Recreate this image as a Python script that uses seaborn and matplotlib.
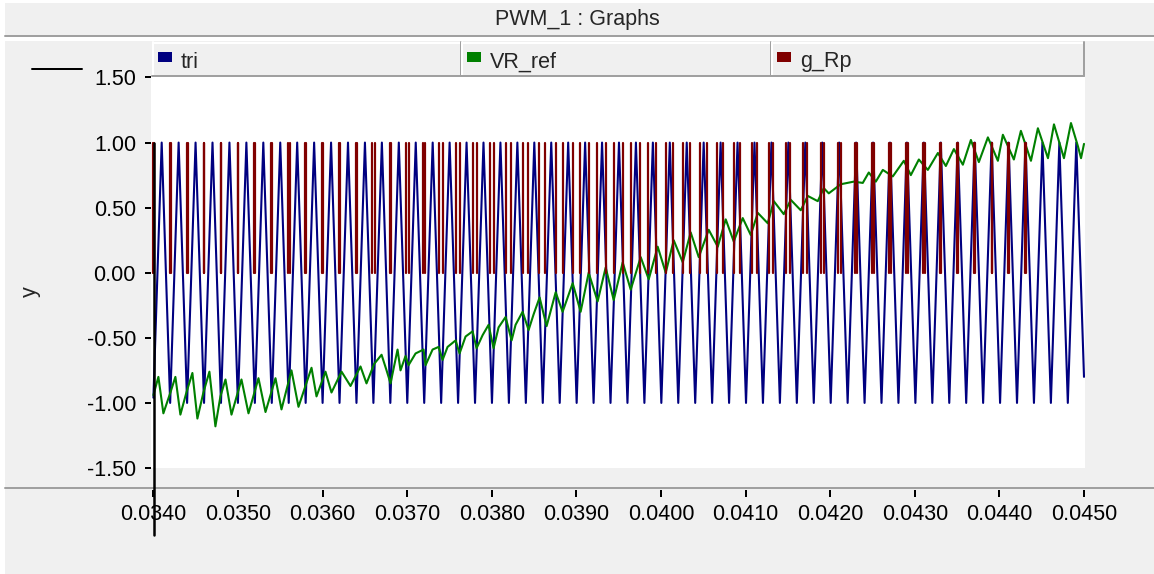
import numpy as np
import pandas as pd
import matplotlib
matplotlib.use("Agg")
import matplotlib.pyplot as plt
import seaborn as sns
from matplotlib.lines import Line2D
from matplotlib.patches import Rectangle
from matplotlib.ticker import FormatStrFormatter

# ---------------- data ----------------
series_names = ["tri", "VR_ref", "g_Rp"]
series_colors = ["#000080", "#008000", "#800000"]

# triangle carrier: vertices (alternating peak / trough), evenly spaced in time
tri_start_value = -0.96
tri_end_value = -0.80
tri_first_peak = 0.034098        # s
tri_half_period = 0.0001001      # s
tri_vertex = [
    1.00, -1.00, 1.00, -1.00, 1.00, -1.00, 1.00, -1.00, 1.00, -1.00,
    1.00, -1.00, 1.00, -1.00, 1.00, -1.00, 1.00, -1.00, 1.00, -1.00,
    1.00, -1.00, 1.00, -1.00, 1.00, -1.00, 1.00, -1.00, 1.00, -1.00,
    1.00, -1.00, 1.00, -1.00, 1.00, -1.00, 1.00, -1.00, 1.00, -1.00,
    1.00, -1.00, 1.00, -1.00, 1.00, -1.00, 1.00, -1.00, 1.00, -1.00,
    1.00, -1.00, 1.00, -1.00, 1.00, -1.00, 1.00, -1.00, 1.00, -1.00,
    1.00, -1.00, 1.00, -1.00, 1.00, -1.00, 1.00, -1.00, 1.00, -1.00,
    1.00, -1.00, 1.00, -1.00, 1.00, -1.00, 1.00, -1.00, 1.00, -1.00,
    1.00, -1.00, 1.00, -1.00, 1.00, -1.00, 1.00, -1.00, 1.00, -1.00,
    1.00, -1.00, 1.00, -1.00, 1.00, -1.00, 1.00, -1.00, 1.00, -1.00,
    1.00, -1.00, 1.00, -1.00, 1.00, -1.00, 1.00, -1.00, 1.00,
]

# reference voltage (time in ms, value)
vr_ms = [
    34.000, 34.059, 34.118, 34.201, 34.260, 34.319, 34.390, 34.461, 34.520, 34.591,
    34.662, 34.733, 34.792, 34.852, 34.923, 35.041, 35.124, 35.242, 35.325, 35.443,
    35.514, 35.632, 35.715, 35.869, 35.928, 36.034, 36.105, 36.224, 36.330, 36.448,
    36.519, 36.610, 36.697, 36.756, 36.803, 36.886, 36.921, 36.980, 37.016, 37.099,
    37.193, 37.217, 37.300, 37.371, 37.418, 37.477, 37.572, 37.619, 37.690, 37.773,
    37.820, 37.891, 37.962, 38.021, 38.080, 38.163, 38.234, 38.281, 38.364, 38.435,
    38.494, 38.565, 38.648, 38.755, 38.837, 38.956, 39.050, 39.145, 39.251, 39.346,
    39.441, 39.547, 39.642, 39.760, 39.855, 39.961, 40.056, 40.150, 40.257, 40.351,
    40.446, 40.564, 40.671, 40.765, 40.860, 40.966, 41.061, 41.144, 41.262, 41.333,
    41.451, 41.534, 41.652, 41.735, 41.853, 41.924, 41.983, 42.125, 42.279, 42.385,
    42.456, 42.539, 42.622, 42.740, 42.870, 42.953, 43.048, 43.154, 43.273, 43.367,
    43.462, 43.568, 43.663, 43.757, 43.864, 43.982, 44.041, 44.171, 44.254, 44.373,
    44.455, 44.574, 44.645, 44.763, 44.846, 44.929, 44.965, 45.000,
]
vr_val = [
    -0.94, -0.80, -1.08, -0.92, -0.80, -1.09, -0.92, -0.77, -1.12, -0.92,
    -0.76, -1.18, -0.95, -0.82, -1.09, -0.82, -1.08, -0.81, -1.07, -0.81,
    -1.05, -0.75, -1.03, -0.73, -0.95, -0.76, -0.92, -0.76, -0.87, -0.72,
    -0.85, -0.70, -0.63, -0.75, -0.85, -0.59, -0.75, -0.64, -0.71, -0.62,
    -0.59, -0.71, -0.59, -0.57, -0.67, -0.57, -0.52, -0.62, -0.49, -0.45,
    -0.58, -0.48, -0.40, -0.58, -0.42, -0.34, -0.52, -0.40, -0.30, -0.44,
    -0.32, -0.19, -0.41, -0.15, -0.30, -0.08, -0.30, 0.00, -0.22, 0.04,
    -0.21, 0.08, -0.13, 0.12, -0.05, 0.20, 0.00, 0.25, 0.08, 0.31,
    0.12, 0.33, 0.20, 0.41, 0.24, 0.42, 0.29, 0.46, 0.38, 0.55,
    0.45, 0.56, 0.48, 0.59, 0.55, 0.65, 0.61, 0.68, 0.70, 0.69,
    0.77, 0.70, 0.79, 0.74, 0.86, 0.75, 0.87, 0.79, 0.92, 0.82,
    0.95, 0.83, 1.02, 0.85, 1.04, 0.86, 1.06, 0.87, 1.09, 0.86,
    1.11, 0.88, 1.14, 0.88, 1.15, 0.97, 0.88, 0.99,
]

x_ticks = [0.0340, 0.0350, 0.0360, 0.0370, 0.0380, 0.0390, 0.0400,
           0.0410, 0.0420, 0.0430, 0.0440, 0.0450]
y_ticks = [-1.50, -1.00, -0.50, 0.00, 0.50, 1.00, 1.50]
title_text = "PWM_1 : Graphs"
y_label = "y"

# ---------------- frames ----------------
tri_t = np.concatenate([[0.034],
                        tri_first_peak + tri_half_period * np.arange(len(tri_vertex)),
                        [0.045]])
tri_v = np.concatenate([[tri_start_value], tri_vertex, [tri_end_value]])
df_tri = pd.DataFrame({"t": tri_t, "v": tri_v})
df_vr = pd.DataFrame({"t": np.array(vr_ms) / 1000.0, "v": vr_val})

# gate = comparator output (VR_ref > tri); drawn as its switching edges
t_f = np.linspace(0.034, 0.045, 44001)
g = (np.interp(t_f, df_vr.t, df_vr.v) > np.interp(t_f, df_tri.t, df_tri.v)).astype(int)
edge_t = list(t_f[np.nonzero(np.diff(g))[0] + 1])
if g[0] == 1:
    edge_t = [0.034] + edge_t
rows = []
for i, te in enumerate(edge_t):
    rows.append((te, 0.0, i))
    rows.append((te, 1.0, i))
df_g = pd.DataFrame(rows, columns=["t", "v", "edge"])

# ---------------- figure ----------------
sns.set_style("white")
plt.rcParams["font.family"] = ["Liberation Sans", "DejaVu Sans"]
FS = 15.5
W, H = 1154, 574
fig = plt.figure(figsize=(W / 100, H / 100), dpi=100, facecolor="#f0f0f0")


def fx(x):
    return x / W


def fy(y):
    return 1 - y / H


def px2pt(p):
    return p * 72 / 100


# window chrome
for (x0, y0, x1, y1) in [(0, 0, 5, H), (0, 0, W, 3), (5, 37, W, 41)]:
    fig.patches.append(Rectangle((fx(x0), fy(y1)), (x1 - x0) / W, (y1 - y0) / H,
                                 transform=fig.transFigure, facecolor="white",
                                 edgecolor="none", zorder=0))
for yy in (36, 488):
    fig.lines.append(Line2D([fx(5), 1], [fy(yy), fy(yy)], transform=fig.transFigure,
                            color="#a0a0a0", lw=px2pt(2)))
fig.text(fx(577), fy(20), title_text, ha="center", va="center", fontsize=FS)
fig.text(fx(30), fy(292), y_label, ha="center", va="center", rotation=90, fontsize=FS)
fig.lines.append(Line2D([fx(32), fx(82)], [fy(69.3), fy(69.3)], transform=fig.transFigure,
                        color="black", lw=px2pt(2)))

# plot area
ax_l, ax_r, ax_t, ax_b = 151, 1085, 76, 468
ax = fig.add_axes([fx(ax_l), fy(ax_b), (ax_r - ax_l) / W, (ax_b - ax_t) / H])
ax.set_facecolor("white")
sns.lineplot(data=df_tri, x="t", y="v", ax=ax, color=series_colors[0], lw=1.5,
             estimator=None, sort=False)
sns.lineplot(data=df_vr, x="t", y="v", ax=ax, color=series_colors[1], lw=1.5,
             estimator=None, sort=False)
sns.lineplot(data=df_g, x="t", y="v", units="edge", ax=ax, color=series_colors[2],
             lw=1.6, estimator=None, sort=False)

px_per_s = 84600.0
x0_px = 153.4
ax.set_xlim(0.034 - (x0_px - ax_l) / px_per_s, 0.034 + (ax_r - x0_px) / px_per_s)
px_per_unit = 130.67
zero_px = 273.5
ax.set_ylim((zero_px - ax_b) / px_per_unit, (zero_px - ax_t) / px_per_unit)
ax.set_xlabel("")
ax.set_ylabel("")
for s in ax.spines.values():
    s.set_visible(False)
ax.spines["bottom"].set_position(("outward", px2pt(22)))
ax.set_xticks(x_ticks)
ax.set_yticks(y_ticks)
ax.xaxis.set_major_formatter(FormatStrFormatter("%.4f"))
ax.yaxis.set_major_formatter(FormatStrFormatter("%.2f"))
ax.tick_params(axis="x", bottom=True, direction="out", length=px2pt(7), width=px2pt(2),
               pad=px2pt(7), labelsize=FS, colors="black")
ax.tick_params(axis="y", left=True, direction="out", length=px2pt(6), width=px2pt(2),
               pad=px2pt(9), labelsize=FS, colors="black")
ax.grid(False)
if ax.get_legend() is not None:
    ax.get_legend().remove()

# cursor line
fig.lines.append(Line2D([fx(154), fx(154)], [fy(143), fy(535)], transform=fig.transFigure,
                        color="black", lw=px2pt(2.5), zorder=5))

# legend bar (three button-like cells)
cells = [(152, 461), (461, 771), (771, 1084)]
ly0, ly1 = 41.5, 76
for (cx0, cx1), name, col in zip(cells, series_names, series_colors):
    fig.patches.append(Rectangle((fx(cx0), fy(ly1)), (cx1 - cx0) / W, (ly1 - ly0) / H,
                                 transform=fig.transFigure, facecolor="#f0f0f0",
                                 edgecolor="none", zorder=3))
    fig.lines.append(Line2D([fx(cx0 + 1), fx(cx1)], [fy(ly0 + 1), fy(ly0 + 1)],
                            transform=fig.transFigure, color="white", lw=px2pt(2), zorder=4))
    fig.lines.append(Line2D([fx(cx0 + 1), fx(cx0 + 1)], [fy(ly0), fy(ly1)],
                            transform=fig.transFigure, color="white", lw=px2pt(2), zorder=4))
    fig.lines.append(Line2D([fx(cx1), fx(cx1)], [fy(ly0), fy(ly1)],
                            transform=fig.transFigure, color="#a0a0a0", lw=px2pt(2), zorder=4))
    fig.lines.append(Line2D([fx(cx0), fx(cx1)], [fy(ly1), fy(ly1)],
                            transform=fig.transFigure, color="#a0a0a0", lw=px2pt(2), zorder=4))
    fig.patches.append(Rectangle((fx(cx0 + 6), fy(62)), 14 / W, 10 / H,
                                 transform=fig.transFigure, facecolor=col,
                                 edgecolor="none", zorder=5))
    fig.text(fx(cx0 + 29), fy(67.5), name, ha="left", va="baseline", fontsize=FS, zorder=5)

fig.savefig("out.png", dpi=100, facecolor=fig.get_facecolor())
